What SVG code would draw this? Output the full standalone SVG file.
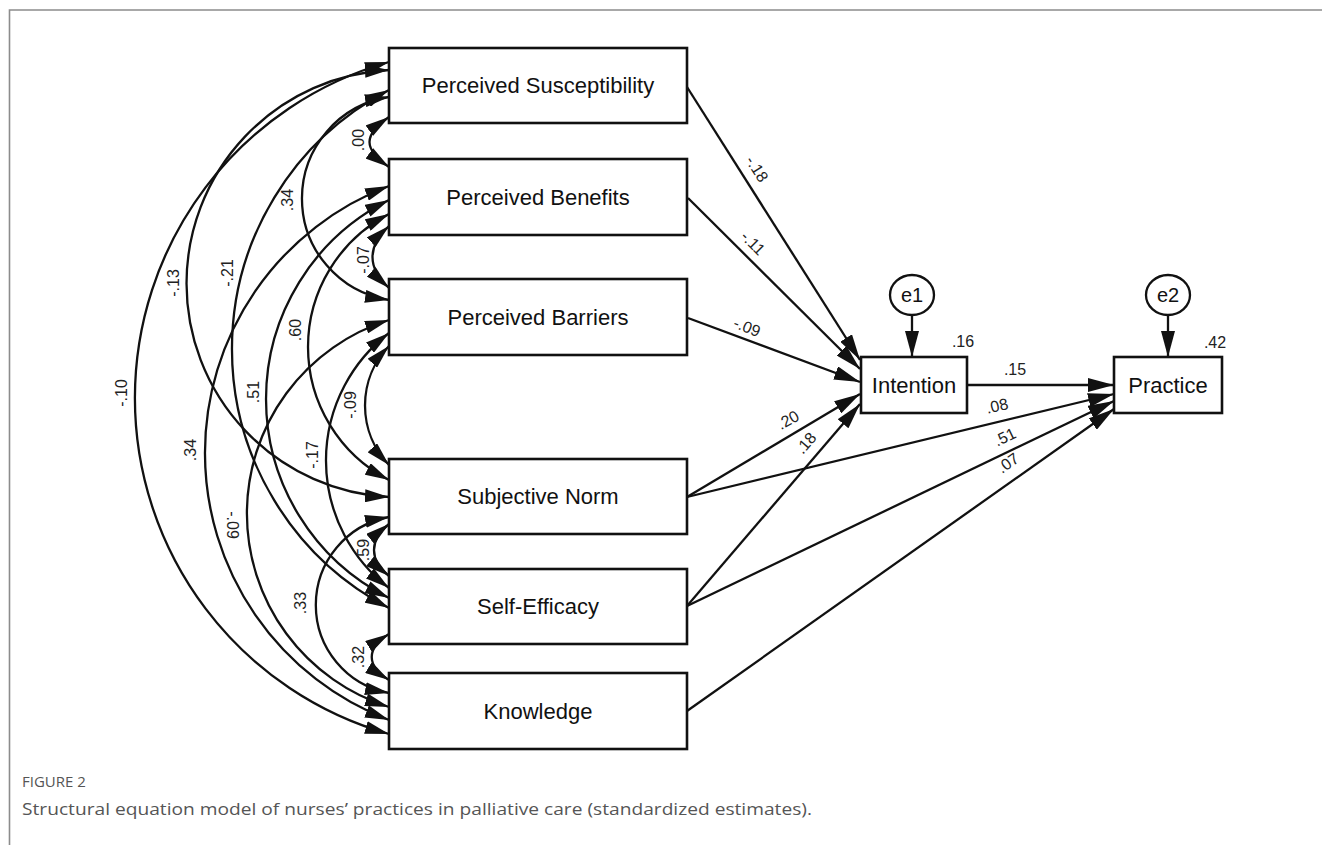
<svg xmlns="http://www.w3.org/2000/svg" width="1322" height="845" viewBox="0 0 1322 845">
<defs>
<style>
.box{fill:#fff;stroke:#111;stroke-width:2.6}
.circ{fill:#fff;stroke:#111;stroke-width:2.3}
.t{font-family:"Liberation Sans",Arial,sans-serif;font-size:22px;fill:#111;text-anchor:middle;dominant-baseline:central}
.n{font-family:"Liberation Sans",Arial,sans-serif;font-size:16px;fill:#222;text-anchor:middle;dominant-baseline:central}
.cov{fill:none;stroke:#111;stroke-width:2.3;marker-start:url(#ah);marker-end:url(#ah)}
.reg{fill:none;stroke:#111;stroke-width:2.3;marker-end:url(#ar)}
.frame{stroke:#8c8c8c;stroke-width:1.6;fill:none}
.cap{font-family:"Open Sans","Liberation Sans",sans-serif;fill:#555}
</style>
<marker id="ah" viewBox="0 0 24 13" refX="24" refY="6.5" markerWidth="24" markerHeight="13" markerUnits="userSpaceOnUse" orient="auto-start-reverse"><path d="M0,0 L24,6.5 L0,13 z" fill="#111"/></marker>
<marker id="ar" viewBox="0 0 26 14" refX="26" refY="7" markerWidth="26" markerHeight="14" markerUnits="userSpaceOnUse" orient="auto"><path d="M0,0 L26,7 L0,14 z" fill="#111"/></marker>
</defs>
<rect width="1322" height="845" fill="#fff"/>
<path class="frame" d="M9.5,845 V10 H1322"/>

<g id="connectors">
<!-- covariances -->
<path class="cov" d="M389,62 A349.2,349.2 0 0 0 389,734"/>
<path class="cov" d="M389,70 A213.8,213.8 0 0 0 389,497"/>
<path class="cov" d="M389,90 A292.1,292.1 0 0 0 389,608"/>
<path class="cov" d="M389,97 A102.7,102.7 0 0 0 389,300"/>
<path class="cov" d="M389,117 C363,135 363,149 389,167"/>
<path class="cov" d="M389,226 C367,246 367,268 389,288"/>
<path class="cov" d="M389,214 A149.7,149.7 0 0 0 389,480"/>
<path class="cov" d="M389,200 A222.5,222.5 0 0 0 389,598"/>
<path class="cov" d="M389,186 A285.7,285.7 0 0 0 389,720"/>
<path class="cov" d="M389,346 A85.8,85.8 0 0 0 389,465"/>
<path class="cov" d="M389,333 A160.5,160.5 0 0 0 389,588"/>
<path class="cov" d="M389,320 A202.8,202.8 0 0 0 389,707"/>
<path class="cov" d="M389,524 C369,540 369,560 389,576"/>
<path class="cov" d="M389,517 A89.5,89.5 0 0 0 389,693"/>
<path class="cov" d="M389,634 C366,648 366,666 389,680"/>
<!-- regressions -->
<path class="reg" d="M687,87 L860,360"/>
<path class="reg" d="M688,198 L860,369"/>
<path class="reg" d="M688,318 L860,382"/>
<path class="reg" d="M687,497 L860,394"/>
<path class="reg" d="M687,606 L860,404"/>
<path class="reg" d="M967,385 L1114,385"/>
<path class="reg" d="M687,497 L1114,394"/>
<path class="reg" d="M687,606 L1114,401"/>
<path class="reg" d="M687,711 L1114,409"/>
<path class="reg" d="M912,315 L912,357"/>
<path class="reg" d="M1168,315 L1168,357"/>
<!-- covariance labels -->
<text class="n" transform="translate(121,393) rotate(-90)">-.10</text>
<text class="n" transform="translate(173,283) rotate(-90)">-.13</text>
<text class="n" transform="translate(227,273) rotate(-90)">-.21</text>
<text class="n" transform="translate(287,200) rotate(-90)">.34</text>
<text class="n" transform="translate(358,140) rotate(-90)">.00</text>
<text class="n" transform="translate(363,260) rotate(-90)">-.07</text>
<text class="n" transform="translate(295,330) rotate(-90)">.60</text>
<text class="n" transform="translate(253,392) rotate(-90)">.51</text>
<text class="n" transform="translate(190,450) rotate(-90)">.34</text>
<text class="n" transform="translate(350,405) rotate(-90)">-.09</text>
<text class="n" transform="translate(312,455) rotate(-90)">-.17</text>
<text class="n" transform="translate(232,525) rotate(90)">-.09</text>
<text class="n" transform="translate(363,550) rotate(-90)">.59</text>
<text class="n" transform="translate(300,603) rotate(-90)">.33</text>
<text class="n" transform="translate(358,657) rotate(-90)">.32</text>
<!-- regression labels -->
<text class="n" transform="translate(757,169) rotate(57.7)">-.18</text>
<text class="n" transform="translate(753,243) rotate(45)">-.11</text>
<text class="n" transform="translate(747,327) rotate(21)">-.09</text>
<text class="n" transform="translate(788,420) rotate(-30)">.20</text>
<text class="n" transform="translate(806,443) rotate(-49)">.18</text>
<text class="n" x="1015" y="369">.15</text>
<text class="n" transform="translate(997,406) rotate(-13)">.08</text>
<text class="n" transform="translate(1005,437) rotate(-25.5)">.51</text>
<text class="n" transform="translate(1008,463) rotate(-35)">.07</text>
</g>

<g id="n-ps"><rect class="box" x="389" y="48" width="298" height="75"/><text class="t" x="538" y="85.5">Perceived Susceptibility</text></g>
<g id="n-pb"><rect class="box" x="389" y="159" width="298" height="76"/><text class="t" x="538" y="197">Perceived Benefits</text></g>
<g id="n-pbar"><rect class="box" x="389" y="279" width="298" height="76"/><text class="t" x="538" y="317">Perceived Barriers</text></g>
<g id="n-sn"><rect class="box" x="389" y="459" width="298" height="75"/><text class="t" x="538" y="496.5">Subjective Norm</text></g>
<g id="n-se"><rect class="box" x="389" y="569" width="298" height="75"/><text class="t" x="538" y="606.5">Self-Efficacy</text></g>
<g id="n-k"><rect class="box" x="389" y="673" width="298" height="76"/><text class="t" x="538" y="711">Knowledge</text></g>
<g id="n-int"><rect class="box" x="861" y="357" width="106" height="56"/><text class="t" x="914" y="385">Intention</text><text class="n" x="963" y="341">.16</text></g>
<g id="n-prac"><rect class="box" x="1114" y="357" width="108" height="56"/><text class="t" x="1168" y="385">Practice</text><text class="n" x="1215" y="342">.42</text></g>
<g id="n-e1"><ellipse class="circ" cx="912" cy="295" rx="22" ry="20"/><text class="t" x="912" y="295" style="font-size:20px">e1</text></g>
<g id="n-e2"><ellipse class="circ" cx="1168" cy="295" rx="22" ry="20"/><text class="t" x="1168" y="295" style="font-size:20px">e2</text></g>

<g id="caption">
<text class="cap" x="22" y="787" font-size="15">FIGURE 2</text>
<text class="cap" x="22" y="815" font-size="17" textLength="790" lengthAdjust="spacingAndGlyphs">Structural equation model of nurses’ practices in palliative care (standardized estimates).</text>
</g>
</svg>
